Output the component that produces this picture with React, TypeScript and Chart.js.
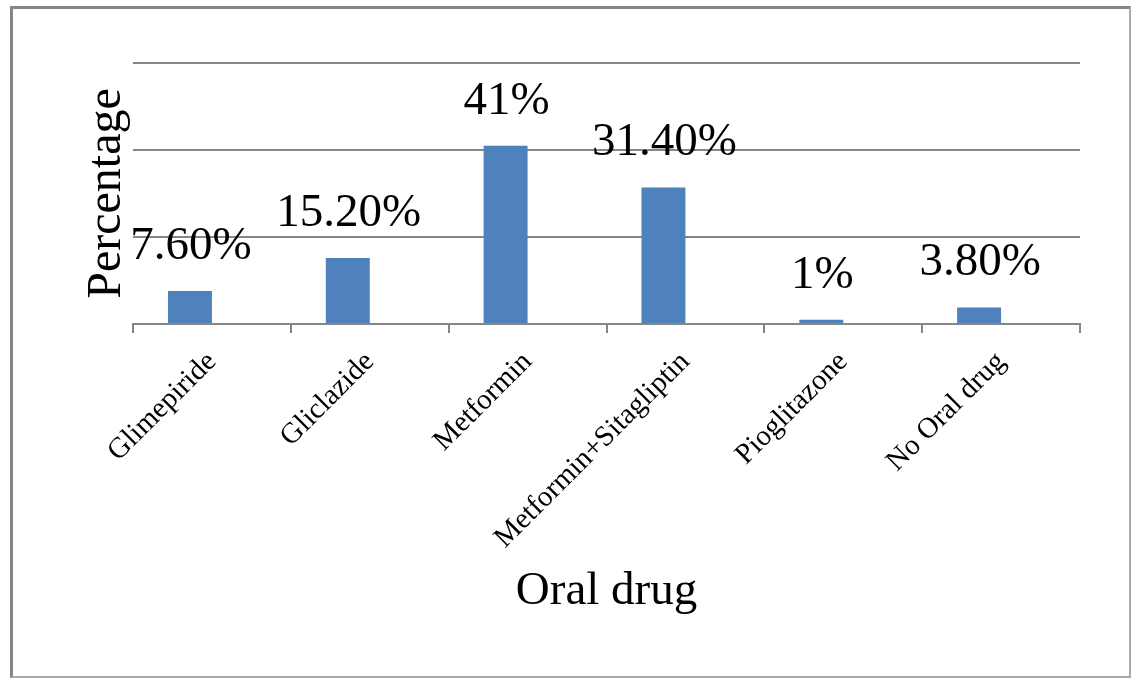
import React, { useEffect, useRef } from "react";
import { Chart, registerables } from "chart.js";

Chart.register(...registerables);

const categories = ["Glimepiride", "Gliclazide", "Metformin", "Metformin+Sitagliptin", "Pioglitazone", "No Oral drug"];
const values = [7.6, 15.2, 41, 31.4, 1, 3.8];
const valueLabels = ["7.60%", "15.20%", "41%", "31.40%", "1%", "3.80%"];
const emptySeries = [null, null, null, null, null, null];
const yTicks = [0, 20, 40, 60];
const yTitle = "Percentage";
const xTitle = "Oral drug";

const SERIF = "'Liberation Serif', 'Times New Roman', serif";

const valueLabelPlugin = {
  id: "valueLabels",
  afterDatasetsDraw(chart: any) {
    const meta = chart.getDatasetMeta(0);
    const ctx = chart.ctx;
    ctx.save();
    ctx.font = `47px ${SERIF}`;
    ctx.fillStyle = "#000";
    ctx.textAlign = "center";
    ctx.textBaseline = "alphabetic";
    meta.data.forEach((el: any, i: number) => {
      ctx.fillText(valueLabels[i], el.x + 1, el.y - 32);
    });
    ctx.restore();
  },
};

export default function App() {
  const ref = useRef<HTMLCanvasElement | null>(null);
  useEffect(() => {
    if (!ref.current) return;
    const chart = new Chart(ref.current, {
      type: "bar",
      data: {
        labels: categories,
        datasets: [
          {
            label: "Percentage",
            data: values,
            backgroundColor: "#4F81BD",
            borderWidth: 0,
            categoryPercentage: 0.557,
            barPercentage: 1,
          },
          {
            label: "",
            data: emptySeries as any,
            backgroundColor: "#C0504D",
            categoryPercentage: 0.557,
            barPercentage: 1,
          },
        ],
      },
      options: {
        animation: false,
        responsive: false,
        maintainAspectRatio: false,
        layout: { padding: { left: 66, right: 49, top: 54, bottom: 56 } },
        plugins: {
          legend: { display: false },
          tooltip: { enabled: false },
        },
        scales: {
          x: {
            afterFit: (scale: any) => {
              scale.height = 296;
            },
            grid: {
              offset: true,
              drawOnChartArea: false,
              drawTicks: true,
              tickLength: 9,
              color: "#868686",
              lineWidth: 2,
            },
            border: { display: true, color: "#868686", width: 2 },
            ticks: {
              autoSkip: false,
              minRotation: 45,
              maxRotation: 45,
              padding: 12,
              color: "#000",
              font: { family: SERIF, size: 29 },
            },
            title: {
              display: true,
              text: xTitle,
              color: "#000",
              font: { family: SERIF, size: 47 },
              padding: 0,
            },
          },
          y: {
            min: yTicks[0],
            max: yTicks[yTicks.length - 1],
            afterFit: (scale: any) => {
              scale.width = 54;
            },
            afterBuildTicks: (scale: any) => {
              scale.ticks = yTicks.map((v) => ({ value: v }));
            },
            grid: {
              drawTicks: false,
              color: "#868686",
              lineWidth: 2,
            },
            border: { display: false },
            ticks: { display: false },
            title: {
              display: true,
              text: yTitle,
              color: "#000",
              font: { family: SERIF, size: 48 },
              padding: 0,
            },
          },
        },
      },
      plugins: [valueLabelPlugin],
    });
    return () => chart.destroy();
  }, []);

  return (
    <div
      style={{
        position: "absolute",
        left: 10,
        top: 6,
        width: 1121,
        height: 672,
        boxSizing: "border-box",
        borderTop: "3px solid #858585",
        borderLeft: "3px solid #858585",
        borderRight: "2px solid #a8a8a8",
        borderBottom: "2px solid #a8a8a8",
        background: "#fff",
      }}
    >
      <canvas ref={ref} width={1116} height={667} style={{ display: "block" }} />
    </div>
  );
}
